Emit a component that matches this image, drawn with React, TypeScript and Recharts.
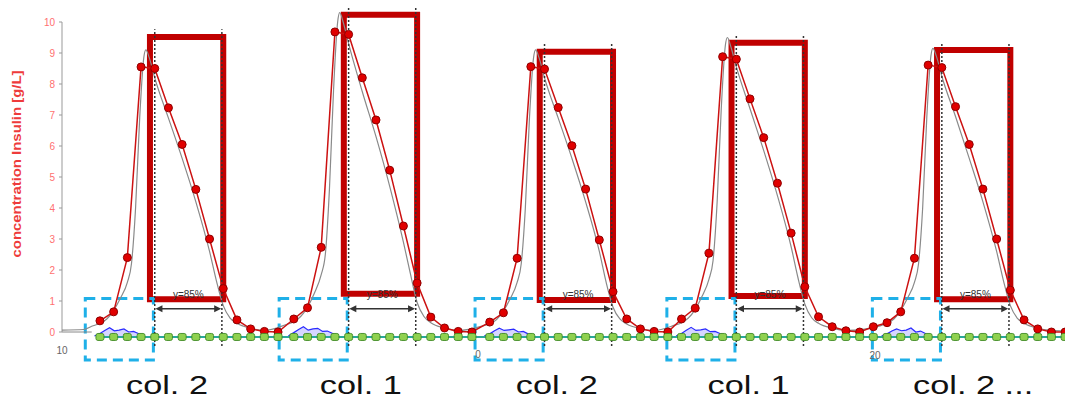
import React from "react";
import {
  ComposedChart,
  Line,
  Area,
  XAxis,
  YAxis,
  ReferenceArea,
  ReferenceLine,
  ReferenceDot,
} from "recharts";

// time (in fractions) of the first collected fraction of each injection
const injections = [0, 14.15, 28.45, 42.45, 57.45];
const columnLabels = ["col. 2", "col. 1", "col. 2", "col. 1", "col. 2 ..."];
const yTicks = [0, 1, 2, 3, 4, 5, 6, 7, 8, 9, 10];
const axisLeftovers = [
  { x: -2.77, y: -0.58, text: "10" },
  { x: 27.6, y: -0.74, text: "0" },
  { x: 56.57, y: -0.77, text: "20" },
];

// measured insulin per fraction [g/L]
const insulin = [
  [0.36, 0.65, 2.4, 8.55, 8.5, 7.23, 6.05, 4.6, 3.0, 1.4, 0.39, 0.1, 0.02, 0.0],
  [0.42, 0.78, 2.73, 9.68, 9.6, 8.2, 6.84, 5.22, 3.42, 1.58, 0.48, 0.13, 0.02, 0.0],
  [0.32, 0.62, 2.38, 8.56, 8.48, 7.24, 6.01, 4.61, 2.97, 1.3, 0.42, 0.1, 0.02, 0.0],
  [0.42, 0.77, 2.54, 8.88, 8.8, 7.52, 6.27, 4.8, 3.19, 1.46, 0.49, 0.17, 0.04, 0.0, 0.17],
  [0.3, 0.65, 2.38, 8.61, 8.53, 7.27, 6.05, 4.61, 3.0, 1.35, 0.39, 0.1, 0.0, 0.0],
];

// simulated insulin (thin grey curve)
const simOffsets = [-0.5, 0, 0.5, 1, 1.5, 2, 2.3, 2.6, 2.9, 3.2, 3.35, 3.6, 4, 5, 6, 7, 8, 8.5, 9, 9.5, 10, 11, 12];
const simulated = [
  [0.2, 0.28, 0.42, 0.7, 1.1, 1.6, 2.2, 4.0, 6.9, 8.85, 9.1, 8.85, 8.2, 6.9, 5.6, 4.2, 2.6, 1.65, 0.85, 0.45, 0.28, 0.12, 0.05],
  [0.25, 0.33, 0.5, 0.8, 1.25, 1.85, 2.5, 4.6, 7.8, 10.0, 10.3, 10.0, 9.3, 7.75, 6.3, 4.7, 2.9, 1.9, 0.95, 0.5, 0.3, 0.13, 0.05],
  [0.2, 0.27, 0.4, 0.68, 1.08, 1.6, 2.2, 4.0, 6.9, 8.85, 9.1, 8.85, 8.2, 6.9, 5.6, 4.2, 2.6, 1.6, 0.8, 0.42, 0.26, 0.11, 0.05],
  [0.22, 0.3, 0.45, 0.73, 1.15, 1.7, 2.3, 4.2, 7.2, 9.25, 9.5, 9.2, 8.55, 7.2, 5.85, 4.4, 2.75, 1.75, 0.9, 0.46, 0.28, 0.12, 0.05],
  [0.2, 0.28, 0.42, 0.7, 1.1, 1.6, 2.2, 4.0, 6.9, 8.9, 9.15, 8.9, 8.25, 6.95, 5.6, 4.2, 2.6, 1.65, 0.85, 0.45, 0.28, 0.12, 0.05],
];
const simEdges = [
  { x: -2.77, y: 0.06 },
  { x: -1.2, y: 0.08 },
  { x: 70.44, y: 0.03 },
];

// impurity (blue) early in each run
const impOffsets = [-0.4, 0, 0.35, 0.7, 1.05, 1.4, 1.75, 2.1, 2.45, 2.8, 3.15];
const impurity = [
  [-0.13, -0.05, 0.05, 0.14, 0.04, 0.06, 0.1, 0.0, 0.02, -0.05, -0.13],
  [-0.13, -0.02, 0.08, 0.17, 0.06, 0.1, 0.12, 0.02, 0.03, -0.04, -0.13],
  [-0.13, -0.06, 0.04, 0.12, 0.05, 0.07, 0.09, 0.0, 0.02, -0.06, -0.13],
  [-0.13, -0.05, 0.06, 0.15, 0.05, 0.07, 0.1, 0.01, 0.02, -0.05, -0.13],
  [-0.13, -0.06, 0.03, 0.1, 0.04, 0.06, 0.13, 0.0, 0.03, -0.05, -0.13],
];

// green trace, flat near the baseline
const greenTrace = [
  [-0.16, -0.16, -0.16, -0.16, -0.16, -0.16, -0.16, -0.16, -0.16, -0.16, -0.16, -0.16, -0.16, -0.16],
  [-0.16, -0.16, -0.16, -0.16, -0.16, -0.16, -0.16, -0.16, -0.16, -0.16, -0.16, -0.16, -0.16, -0.16],
  [-0.16, -0.16, -0.16, -0.16, -0.16, -0.16, -0.16, -0.16, -0.16, -0.16, -0.16, -0.16, -0.16, -0.16],
  [-0.16, -0.16, -0.16, -0.16, -0.16, -0.16, -0.16, -0.16, -0.16, -0.16, -0.16, -0.16, -0.16, -0.16, -0.16],
  [-0.16, -0.16, -0.16, -0.16, -0.16, -0.16, -0.16, -0.16, -0.16, -0.16, -0.16, -0.16, -0.16, -0.16],
];

// pooling windows (red boxes) and load windows (blue boxes)
const poolTop = [9.52, 10.23, 9.04, 9.33, 9.1];
const poolBottom = [1.06, 1.23, 1.03, 1.16, 1.06];
const poolStart = 3.65;
const poolEnd = 9.0;
const cutStart = 4.0;
const cutEnd = 8.9;
const loadStart = -1.07;
const loadEnd = 3.9;
const loadTop = 1.08;
const loadBottom = -0.9;
const yieldText = "y=85%";
const labelOffset = 1.9;

const redData = insulin.flatMap((run, c) =>
  run.map((v, j) => ({ x: injections[c] + j, y: v }))
);
const greenData = greenTrace.flatMap((run, c) =>
  run.map((v, j) => ({ x: injections[c] + j, y: v }))
);
const simData = [
  simEdges[0],
  simEdges[1],
  ...simulated.flatMap((run, c) =>
    run.map((v, j) => ({ x: injections[c] + simOffsets[j], y: v }))
  ),
  simEdges[2],
];
const impData = impurity.flatMap((run, c) => [
  ...run.map((v, j) => ({ x: injections[c] + impOffsets[j], y: v })),
  { x: injections[c] + 6, y: null },
]);
const labelTicks = injections.map((t) => t + labelOffset);

const renderColumnTick = (props: any) => {
  const { x, y, index } = props;
  return (
    <text
      transform={`translate(${x},${y + 31}) scale(1.32,1)`}
      fontSize={26}
      fill="#111"
    >
      {columnLabels[index]}
    </text>
  );
};

const renderYTitle = (props: any) => {
  const vb = props.viewBox || { x: 0, y: 6.5 };
  const cx = vb.x + 17;
  const cy = vb.y + 157.5;
  return (
    <text
      x={cx}
      y={cy}
      transform={`rotate(-90 ${cx} ${cy})`}
      textAnchor="middle"
      dominantBaseline="central"
      fontSize={12}
      fontWeight="bold"
      fill="#ee3b3b"
      textLength={187}
      lengthAdjust="spacingAndGlyphs"
    >
      concentration Insulin [g/L]
    </text>
  );
};

const renderArrow = (props: any) => {
  const { x1, y1, x2 } = props;
  return (
    <g>
      <line x1={x1 + 5} y1={y1} x2={x2 - 5} y2={y1} stroke="#333" strokeWidth={1.5} />
      <polygon points={`${x1},${y1} ${x1 + 7},${y1 - 3.5} ${x1 + 7},${y1 + 3.5}`} fill="#333" />
      <polygon points={`${x2},${y1} ${x2 - 7},${y1 - 3.5} ${x2 - 7},${y1 + 3.5}`} fill="#333" />
      <text x={(x1 + x2) / 2} y={y1 - 11} textAnchor="middle" fontSize={10} fill="#333">
        {yieldText}
      </text>
    </g>
  );
};

const renderGreenDot = (props: any) => {
  const { cx, cy, index } = props;
  if (cx == null || cy == null) return <g key={`gd-${index}`} />;
  return (
    <rect
      key={`gd-${index}`}
      x={cx - 4}
      y={cy - 3.5}
      width={8}
      height={7}
      rx={2}
      fill="#8fd14f"
      stroke="#3f8a25"
      strokeWidth={0.9}
    />
  );
};

export default function App() {
  return (
    <div
      style={{
        position: "absolute",
        left: 0,
        top: 0,
        background: "#fff",
        fontFamily: "'Liberation Sans', Arial, sans-serif",
      }}
    >
      <ComposedChart
        width={1065}
        height={398}
        margin={{ top: 6.5, right: 0, bottom: 0, left: 0 }}
      >
        <XAxis
          type="number"
          dataKey="x"
          domain={[-2.77, 70.44]}
          allowDataOverflow
          ticks={labelTicks}
          interval={0}
          tick={renderColumnTick}
          tickLine={false}
          axisLine={false}
          tickSize={0}
          tickMargin={0}
          height={35}
        />
        <YAxis
          type="number"
          dataKey="y"
          domain={[-1, 10.5]}
          allowDataOverflow
          ticks={yTicks}
          interval={0}
          width={62}
          axisLine={false}
          tickLine={{ stroke: "#999" }}
          tickSize={3}
          tickMargin={4}
          tick={{ fontSize: 10, fill: "#ff7070" }}
          label={{ content: renderYTitle }}
        />

        <ReferenceLine
          segment={[{ x: -2.77, y: 0 }, { x: -2.77, y: 10 }]}
          stroke="#999"
          ifOverflow="visible"
        />
        <ReferenceLine
          segment={[{ x: -2.77, y: 0 }, { x: -0.6, y: 0 }]}
          stroke="#888"
          ifOverflow="visible"
        />
        {axisLeftovers.map((a) => (
          <ReferenceDot
            key={a.text}
            x={a.x}
            y={a.y}
            r={0}
            fill="none"
            stroke="none"
            ifOverflow="visible"
            label={{ value: a.text, position: "center", fontSize: 10, fill: "#666" }}
          />
        ))}

        <Line
          data={simData}
          dataKey="y"
          type="monotone"
          stroke="#8a8a8a"
          strokeWidth={1.2}
          dot={false}
          isAnimationActive={false}
        />
        <Area
          data={impData}
          dataKey="y"
          type="linear"
          baseValue={-0.13}
          stroke="#2a2aff"
          strokeWidth={1.2}
          fill="#8a8aff"
          fillOpacity={0.35}
          connectNulls={false}
          isAnimationActive={false}
        />
        <Line
          data={redData}
          dataKey="y"
          type="linear"
          stroke="#cc1111"
          strokeWidth={1.5}
          dot={{ r: 4, fill: "#e00000", stroke: "#8e0000", strokeWidth: 1 }}
          isAnimationActive={false}
        />
        <Line
          data={greenData}
          dataKey="y"
          type="linear"
          stroke="#2aa89a"
          strokeWidth={2}
          dot={renderGreenDot}
          isAnimationActive={false}
        />

        {injections.map((t, c) => (
          <ReferenceLine
            key={`cl-${c}`}
            segment={[{ x: t + cutStart, y: -0.45 }, { x: t + cutStart, y: poolTop[c] + 0.25 }]}
            stroke="#333"
            strokeWidth={1.5}
            strokeDasharray="2 2"
          />
        ))}
        {injections.map((t, c) => (
          <ReferenceLine
            key={`cr-${c}`}
            segment={[{ x: t + cutEnd, y: -0.45 }, { x: t + cutEnd, y: poolTop[c] + 0.25 }]}
            stroke="#333"
            strokeWidth={1.5}
            strokeDasharray="2 2"
          />
        ))}
        {injections.map((t, c) => (
          <ReferenceLine
            key={`ar-${c}`}
            segment={[{ x: t + cutStart + 0.05, y: 0.75 }, { x: t + cutEnd - 0.05, y: 0.75 }]}
            shape={renderArrow}
          />
        ))}
        {injections.map((t, c) => (
          <ReferenceArea
            key={`pool-${c}`}
            x1={t + poolStart}
            x2={t + poolEnd}
            y1={poolBottom[c]}
            y2={poolTop[c]}
            fill="none"
            fillOpacity={0}
            stroke="#c00000"
            strokeWidth={6}
          />
        ))}
        {injections.map((t, c) => (
          <ReferenceArea
            key={`load-${c}`}
            x1={t + loadStart}
            x2={t + loadEnd}
            y1={loadBottom}
            y2={loadTop}
            fill="none"
            fillOpacity={0}
            stroke="#1fb0e8"
            strokeWidth={3}
            strokeDasharray="10 6"
          />
        ))}
      </ComposedChart>
    </div>
  );
}
